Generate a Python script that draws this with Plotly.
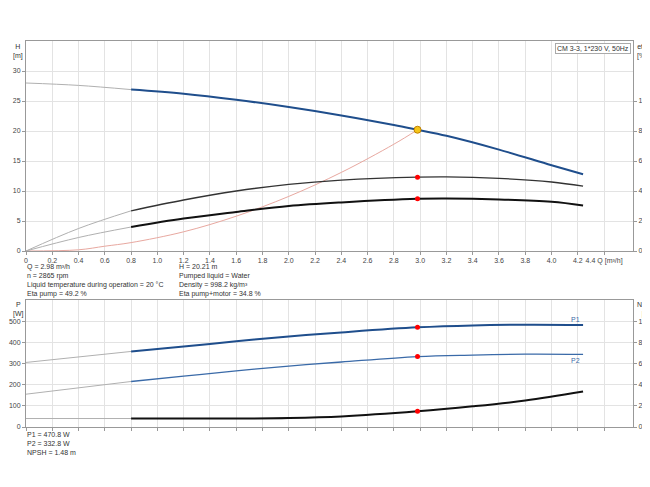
import plotly.graph_objects as go

Q_h = [0.8, 1.2, 1.6, 2.0, 2.4, 2.8, 2.98, 3.2, 3.6, 4.0, 4.24]
H = [26.9, 26.2, 25.2, 24.0, 22.6, 21.0, 20.2, 19.2, 16.9, 14.3, 12.8]
Q_ext = [0, 0.4, 0.8]
H_ext = [28.0, 27.6, 26.9]
Q_eta = [0.8, 1.2, 1.6, 2.0, 2.4, 2.98, 3.2, 3.6, 4.0, 4.24]
eta_pump = [26.8, 34, 40, 44.4, 47.2, 49.2, 49.4, 48.4, 46, 43.2]
eta_tot = [16, 21.6, 26, 30, 32.4, 34.8, 35, 34.4, 32.8, 30.4]
Q_eta_ext = [0, 0.4, 0.8]
eta_pump_ext = [0, 15, 26.8]
eta_tot_ext = [0, 9, 16]
Q_sys = [0, 0.4, 0.6, 0.8, 1.2, 1.6, 2.0, 2.4, 2.8, 2.98]
H_sys = [0, 0.2, 0.8, 1.4, 3.2, 5.8, 9.1, 13.1, 17.8, 20.2]
Q_p = [0.8, 1.2, 1.6, 2.0, 2.4, 2.98, 3.4, 3.8, 4.24]
P1 = [357, 380, 405, 428, 447, 470.8, 480, 483, 482]
P2 = [215, 240, 265, 288, 307, 332.8, 340, 344, 343]
Q_p_ext = [0, 0.8]
P1_ext = [305, 357]
P2_ext = [155, 215]
Q_n = [0.8, 1.6, 2.0, 2.4, 2.98, 3.4, 3.8, 4.24]
NPSH = [0.8, 0.8, 0.85, 1.0, 1.48, 1.95, 2.5, 3.35]
Q_n_ext = [0, 0.8]
NPSH_ext = [0.8, 0.8]
op_Q = 2.98
x_ticks = [round(0.2 * i, 1) for i in range(23)]

BLUE = "#1f4e8c"
GRAY = "#b0b0b0"
fig = go.Figure()
def ln(x, y, xa, ya, color, w):
    fig.add_trace(go.Scatter(x=x, y=y, xaxis=xa, yaxis=ya, mode="lines",
                             line=dict(color=color, width=w, shape="spline"), hoverinfo="skip"))
ln(Q_ext, H_ext, "x", "y", GRAY, 1)
ln(Q_h, H, "x", "y", BLUE, 2)
ln(Q_sys, H_sys, "x", "y", "#e8a8a0", 1)
ln(Q_eta_ext, eta_pump_ext, "x", "y2", GRAY, 1)
ln(Q_eta_ext, eta_tot_ext, "x", "y2", GRAY, 1)
ln(Q_eta, eta_pump, "x", "y2", "#333333", 1.3)
ln(Q_eta, eta_tot, "x", "y2", "#111111", 2)
fig.add_trace(go.Scatter(x=[op_Q, op_Q], y=[49.2, 34.8], xaxis="x", yaxis="y2", mode="markers",
                         marker=dict(color="red", size=5), hoverinfo="skip"))
fig.add_trace(go.Scatter(x=[op_Q], y=[20.21], xaxis="x", yaxis="y", mode="markers",
                         marker=dict(color="#f5c518", size=7, line=dict(color="#c08000", width=1)), hoverinfo="skip"))
ln(Q_p_ext, P1_ext, "x2", "y3", GRAY, 1)
ln(Q_p_ext, P2_ext, "x2", "y3", GRAY, 1)
ln(Q_p, P1, "x2", "y3", BLUE, 2)
ln(Q_p, P2, "x2", "y3", "#3a6aa8", 1.3)
ln(Q_n_ext, NPSH_ext, "x2", "y4", GRAY, 1)
ln(Q_n, NPSH, "x2", "y4", "#111111", 2)
fig.add_trace(go.Scatter(x=[op_Q, op_Q], y=[470.8, 332.8], xaxis="x2", yaxis="y3", mode="markers",
                         marker=dict(color="red", size=5), hoverinfo="skip"))
fig.add_trace(go.Scatter(x=[op_Q], y=[1.48], xaxis="x2", yaxis="y4", mode="markers",
                         marker=dict(color="red", size=5), hoverinfo="skip"))

tf = dict(size=7, color="#444", family="Liberation Sans")
common = dict(zeroline=False, showline=True, linecolor="#999", automargin=False,
              ticks="outside", ticklen=3, tickcolor="#999", tickfont=tf)
grid = dict(showgrid=True, gridcolor="#e3e3e3")
fig.update_layout(
    width=650, height=487, margin=dict(l=18, r=25, t=0, b=0, autoexpand=False), showlegend=False,
    plot_bgcolor="white", paper_bgcolor="white",
    xaxis=dict(domain=[0, 1], range=[0, 4.62], tickvals=x_ticks, ticktext=[f"{v:.1f}" if v != 0 else "0" for v in x_ticks][:-1] + ["4.4 Q [m³/h]"],
               anchor="y", mirror=True, **common, **grid),
    yaxis=dict(domain=[1-243/487, 1-33/487], range=[0, 35], tickvals=[0, 5, 10, 15, 20, 25, 30], anchor="x", mirror=True, **common, **grid),
    yaxis2=dict(overlaying="y", side="right", range=[0, 140], tickvals=[0, 20, 40, 60, 80, 100], anchor="x", showgrid=False, **common),
    xaxis2=dict(domain=[0, 1], range=[0, 4.62], tickvals=x_ticks, showticklabels=False, anchor="y3", mirror=True, **common, **grid),
    yaxis3=dict(domain=[1-419/487, 1-292/487], range=[0, 600], tickvals=[0, 100, 200, 300, 400, 500], anchor="x2", mirror=True, **common, **grid),
    yaxis4=dict(overlaying="y3", side="right", range=[0, 12], tickvals=[0, 2, 4, 6, 8, 10], anchor="x2", showgrid=False, **common),
)
af = dict(size=7, color="#333", family="Liberation Sans")
def ann(x, y, t, xa="left", ya="top", bg=None):
    fig.add_annotation(x=x/650, y=1-y/487, xref="paper", yref="paper", text=t, showarrow=False,
                       xanchor=xa, yanchor=ya, align="left", font=af,
                       bgcolor=bg, bordercolor="#aaa" if bg else None, borderwidth=1 if bg else 0)
fig.update_annotations()
def pann(x, y, t, xa="left", bg=None):
    fig.add_annotation(x=x, y=y, xref="paper", yref="paper", text=t, showarrow=False,
                       xanchor=xa, yanchor="top", align="center" if xa == "center" else "left", font=af,
                       bgcolor=bg, bordercolor="#aaa" if bg else None, borderwidth=1 if bg else 0)
# convert pixel positions to paper coords given margins (l=18, width 607)
def px(xp): return (xp - 18) / 607
def py(yp): return 1 - yp / 487
pann(px(10), py(34), "H<br>[m]", "center")
pann(px(634), py(34), "eta<br>[%]", "center")
pann(px(623), py(35), "CM 3-3, 1*230 V, 50Hz", "right", bg="white")
pann(px(18), py(254), "Q = 2.98 m³/h<br>n = 2865 rpm<br>Liquid temperature during operation = 20 °C<br>Eta pump = 49.2 %")
pann(px(170), py(254), "H = 20.21 m<br>Pumped liquid = Water<br>Density = 998.2 kg/m³<br>Eta pump+motor = 34.8 %")
pann(px(10), py(292), "P<br>[W]", "center")
pann(px(638), py(292), "NPSH<br>[m]", "center")
pann(px(18), py(422), "P1 = 470.8 W<br>P2 = 332.8 W<br>NPSH = 1.48 m")
pann(px(562), py(307), '<span style="color:#3a6aa8">P1</span>')
pann(px(562), py(348), '<span style="color:#3a6aa8">P2</span>')
fig.write_html("out.html")
